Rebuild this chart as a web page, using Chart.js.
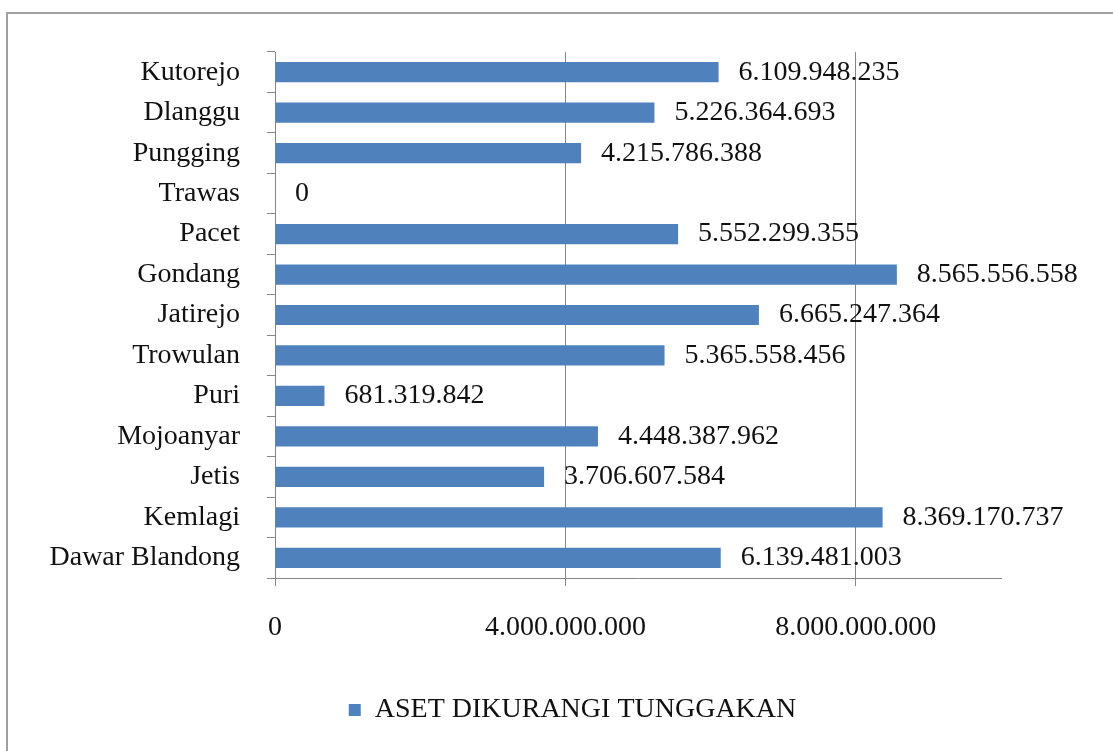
<!DOCTYPE html>
<html>
<head>
<meta charset="utf-8">
<script src="https://cdn.jsdelivr.net/npm/chart.js@4.4.0/dist/chart.umd.min.js"></script>
<style>
  html, body { margin: 0; padding: 0; background: #fff; overflow: hidden; }
  #wrap { position: relative; width: 1113px; height: 751px; }
  #frame { position: absolute; left: 6px; top: 12px; width: 1120px; height: 760px; border: 2px solid #a0a0a0; box-sizing: border-box; }
  canvas { position: absolute; left: 0; top: 0; }
</style>
</head>
<body>
<div id="wrap">
  <div id="frame"></div>
  <canvas id="asetChart" width="1113" height="751"></canvas>
</div>
<script>
// data
var kecamatan = ["Kutorejo", "Dlanggu", "Pungging", "Trawas", "Pacet", "Gondang", "Jatirejo",
  "Trowulan", "Puri", "Mojoanyar", "Jetis", "Kemlagi", "Dawar Blandong"];
var asetBersih = [6109948235, 5226364693, 4215786388, 0, 5552299355, 8565556558, 6665247364,
  5365558456, 681319842, 4448387962, 3706607584, 8369170737, 6139481003];
var seriesName = "ASET DIKURANGI TUNGGAKAN";
var xTicks = [0, 4000000000, 8000000000];

var serif = "'Liberation Serif', 'Times New Roman', serif";

function titik(v) {
  return String(v).replace(/\B(?=(\d{3})+(?!\d))/g, '.');
}

// value labels to the right of each bar
var valueLabels = {
  id: 'valueLabels',
  afterDatasetsDraw: function(chart) {
    var ctx = chart.ctx;
    var meta = chart.getDatasetMeta(0);
    ctx.save();
    ctx.font = "28px " + serif;
    ctx.fillStyle = "#111";
    ctx.textAlign = "left";
    ctx.textBaseline = "middle";
    meta.data.forEach(function(bar, i) {
      ctx.fillText(titik(asetBersih[i]), bar.x + 20, bar.y);
    });
    ctx.restore();
  }
};

// nudge the legend to the right, like the original
var legendShift = {
  id: 'legendShift',
  afterLayout: function(chart) {
    if (chart.legend) {
      chart.legend.left += 72;
      chart.legend.right += 72;
    }
  }
};

var ctx = document.getElementById("asetChart");
var asetChart = new Chart(ctx, {
  type: 'bar',
  data: {
    labels: kecamatan,
    datasets: [{
      label: seriesName,
      data: asetBersih,
      backgroundColor: "#4f81bd",
      barPercentage: 0.5,
      categoryPercentage: 1.0
    }]
  },
  plugins: [valueLabels, legendShift],
  options: {
    indexAxis: 'y',
    responsive: false,
    animation: false,
    layout: { padding: { top: 52, right: 112, bottom: 17, left: 0 } },
    plugins: {
      legend: {
        display: true,
        position: 'bottom',
        labels: {
          font: { family: serif, size: 28 },
          color: "#111",
          boxWidth: 12,
          boxHeight: 12,
          padding: 10
        }
      },
      tooltip: { enabled: false }
    },
    scales: {
      x: {
        min: 0,
        max: 10000000000,
        afterBuildTicks: function(scale) {
          scale.ticks = xTicks.map(function(v) { return { value: v }; });
        },
        afterFit: function(scale) { scale.height = 108; },
        ticks: {
          font: { family: serif, size: 28 },
          color: "#111",
          padding: 25,
          maxRotation: 0,
          callback: function(v) { return titik(v); }
        },
        grid: { color: "#868686", lineWidth: 1, tickLength: 8 },
        border: { color: "#868686", width: 1 }
      },
      y: {
        afterFit: function(scale) { scale.width = 275; },
        ticks: {
          font: { family: serif, size: 28 },
          color: "#111",
          padding: 27
        },
        grid: { drawOnChartArea: false, offset: true, color: "#868686", tickLength: 8 },
        border: { color: "#868686", width: 1 }
      }
    }
  }
});
</script>
</body>
</html>
